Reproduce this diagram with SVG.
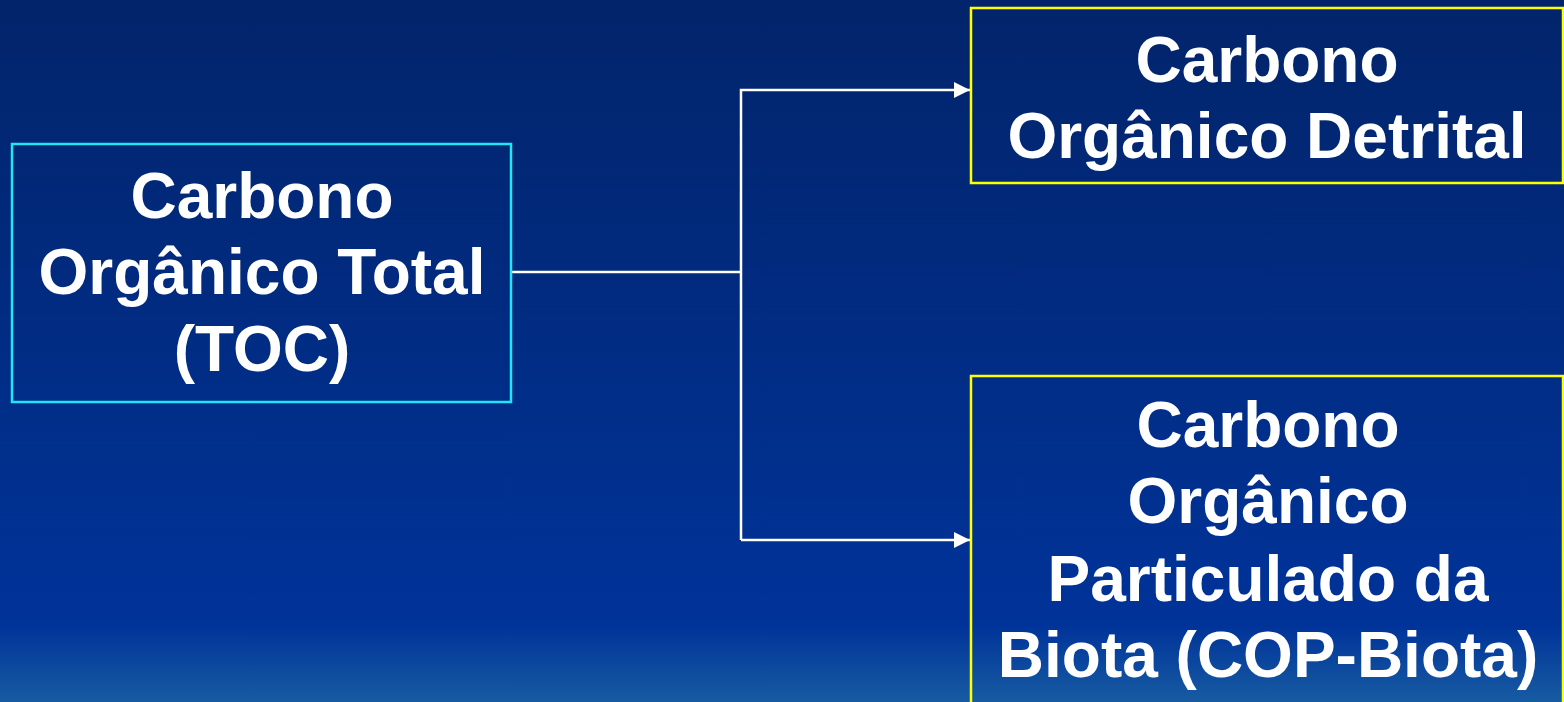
<svg xmlns="http://www.w3.org/2000/svg" width="1564" height="702" viewBox="0 0 1564 702">
  <defs>
    <linearGradient id="bg" x1="0" y1="0" x2="0" y2="702" gradientUnits="userSpaceOnUse">
      <stop offset="0" stop-color="#02246a"/>
      <stop offset="0.89" stop-color="#003399"/>
      <stop offset="1" stop-color="#175ba2"/>
    </linearGradient>
    <marker id="arrow" markerWidth="17" markerHeight="16" refX="16" refY="8" orient="auto" markerUnits="userSpaceOnUse">
      <path d="M0,0 L16,8 L0,16 Z" fill="#ffffff"/>
    </marker>
    <style>
      .box { fill: none; stroke-width: 2.5; }
      .cyan { stroke: #1fe6f5; }
      .yellow { stroke: #ffff00; }
      .lbl { font-family: "Liberation Sans", Arial, sans-serif; font-weight: bold; font-size: 64px; fill: #ffffff; text-anchor: middle; }
      .conn { fill: none; stroke: #ffffff; stroke-width: 2.5; }
    </style>
  </defs>
  <rect x="0" y="0" width="1564" height="702" fill="url(#bg)"/>

  <g id="connectors">
    <path class="conn" d="M511,272 H741"/>
    <path class="conn" d="M741,540 V90 H970" marker-end="url(#arrow)"/>
    <path class="conn" d="M741,540 H970" marker-end="url(#arrow)"/>
  </g>

  <g id="node-toc">
    <rect class="box cyan" x="12" y="144" width="499" height="258"/>
    <text class="lbl" x="262" y="218">Carbono</text>
    <text class="lbl" x="262" y="294">Orgânico Total</text>
    <text class="lbl" x="262" y="371">(TOC)</text>
  </g>

  <g id="node-detrital">
    <rect class="box yellow" x="971" y="8" width="592" height="175"/>
    <text class="lbl" x="1267" y="82">Carbono</text>
    <text class="lbl" x="1267" y="158">Orgânico Detrital</text>
  </g>

  <g id="node-biota">
    <rect class="box yellow" x="971" y="376" width="592" height="340"/>
    <text class="lbl" x="1268" y="447">Carbono</text>
    <text class="lbl" x="1268" y="523">Orgânico</text>
    <text class="lbl" x="1268" y="601">Particulado da</text>
    <text class="lbl" x="1268" y="677">Biota (COP-Biota)</text>
  </g>
</svg>
